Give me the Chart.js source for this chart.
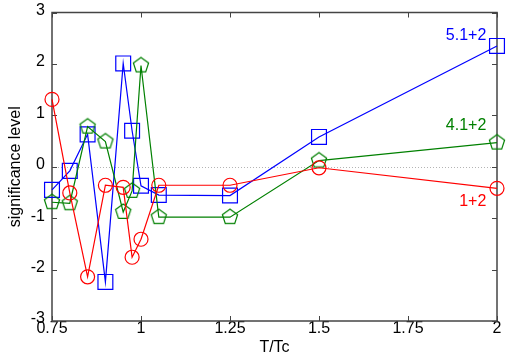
<!DOCTYPE html>
<html>
<head>
<meta charset="utf-8">
<script src="https://cdn.jsdelivr.net/npm/chart.js@4"></script>
<style>
  html, body { margin: 0; padding: 0; background: #fff; }
</style>
</head>
<body>
<canvas id="mychart" width="514" height="364"></canvas>
<script>
// T/Tc values shared by all three series
var temps = [0.75, 0.8, 0.85, 0.9, 0.95, 0.975, 1.0, 1.05, 1.25, 1.5, 2.0];

// significance level per series
var sig12  = [1.31, -0.51, -2.14, -0.36, -0.40, -1.76, -1.41, -0.36, -0.36, -0.02, -0.42];
var sig412 = [-0.69, -0.71, 0.78, 0.49, -0.88, -0.47, 1.97, -0.98, -0.98, 0.12, 0.47];
var sig512 = [-0.45, -0.08, 0.63, -2.24, 2.01, 0.70, -0.37, -0.55, -0.56, 0.58, 2.35];

var xTicks = [0.75, 1, 1.25, 1.5, 1.75, 2];
var yTicks = [-3, -2, -1, 0, 1, 2, 3];

// in-plot series labels (data coordinates, right aligned)
var seriesNames = ['1+2', '4.1+2', '5.1+2'];
var nameX = [1.97, 1.97, 1.97];
var nameY = [-0.68, 0.81, 2.55];

var colors = ['#ff0000', '#008000', '#0000ff'];
var FONT = "'Liberation Sans', Arial, sans-serif";

function toPoints(ys) {
  return temps.map(function(t, i) { return {x: t, y: ys[i]}; });
}

function pentagon(color, r) {
  var c = document.createElement('canvas');
  c.width = c.height = 2 * r + 4;
  var g = c.getContext('2d');
  g.strokeStyle = color;
  g.lineWidth = 1.2;
  g.beginPath();
  for (var k = 0; k < 5; k++) {
    var ang = -Math.PI / 2 + k * 2 * Math.PI / 5;
    var px = c.width / 2 + r * Math.cos(ang);
    var py = c.height / 2 + r * Math.sin(ang);
    if (k) g.lineTo(px, py); else g.moveTo(px, py);
  }
  g.closePath();
  g.stroke();
  return c;
}

var frame = {
  id: 'frame',
  beforeDatasetsDraw: function(chart) {
    var ctx = chart.ctx, a = chart.chartArea;
    var xs = chart.scales.x, ys = chart.scales.y;
    ctx.save();
    // dotted zero line
    var y0 = Math.round(ys.getPixelForValue(0)) + 0.5;
    ctx.strokeStyle = '#b4b4b4';
    ctx.lineWidth = 1;
    ctx.setLineDash([1, 2]);
    ctx.beginPath();
    ctx.moveTo(a.left, y0);
    ctx.lineTo(a.right, y0);
    ctx.stroke();
    ctx.setLineDash([]);
    // box
    ctx.strokeStyle = '#444';
    ctx.lineWidth = 1.5;
    ctx.strokeRect(a.left, a.top, a.right - a.left, a.bottom - a.top);
    // inward ticks on all sides
    ctx.lineWidth = 1;
    ctx.beginPath();
    xTicks.forEach(function(v) {
      var px = Math.round(xs.getPixelForValue(v)) + 0.5;
      ctx.moveTo(px, a.bottom); ctx.lineTo(px, a.bottom - 5);
      ctx.moveTo(px, a.top); ctx.lineTo(px, a.top + 5);
    });
    yTicks.forEach(function(v) {
      var py = Math.round(ys.getPixelForValue(v)) + 0.5;
      ctx.moveTo(a.left, py); ctx.lineTo(a.left + 5, py);
      ctx.moveTo(a.right, py); ctx.lineTo(a.right - 5, py);
    });
    ctx.stroke();
    ctx.restore();
  }
};

var names = {
  id: 'names',
  afterDatasetsDraw: function(chart) {
    var ctx = chart.ctx, xs = chart.scales.x, ys = chart.scales.y;
    ctx.save();
    ctx.font = '16px ' + FONT;
    ctx.textAlign = 'right';
    ctx.textBaseline = 'middle';
    seriesNames.forEach(function(n, i) {
      ctx.fillStyle = colors[i];
      ctx.fillText(n, xs.getPixelForValue(nameX[i]), ys.getPixelForValue(nameY[i]));
    });
    ctx.restore();
  }
};

var ctx = document.getElementById('mychart');

var chartdata = {
  datasets: [
    {
      label: '1+2',
      data: toPoints(sig12),
      borderColor: colors[0],
      borderWidth: 1.2,
      pointStyle: 'circle',
      pointRadius: 7,
      pointBorderWidth: 1.2,
      pointBorderColor: colors[0],
      pointBackgroundColor: 'rgba(0,0,0,0)',
      clip: false
    },
    {
      label: '4.1+2',
      data: toPoints(sig412),
      borderColor: colors[1],
      borderWidth: 1.2,
      pointStyle: pentagon(colors[1], 8),
      pointRadius: 8,
      clip: false
    },
    {
      label: '5.1+2',
      data: toPoints(sig512),
      borderColor: colors[2],
      borderWidth: 1.2,
      pointStyle: 'rect',
      pointRadius: 10.5,
      pointBorderWidth: 1.2,
      pointBorderColor: colors[2],
      pointBackgroundColor: 'rgba(0,0,0,0)',
      clip: false
    }
  ]
};

var chart = new Chart(ctx, {
  type: 'scatter',
  data: chartdata,
  options: {
    responsive: false,
    animation: false,
    devicePixelRatio: 1,
    showLine: true,
    layout: { padding: { top: 12.5, right: 17, left: 0, bottom: 0 } },
    plugins: { legend: { display: false }, tooltip: { enabled: false } },
    scales: {
      x: {
        type: 'linear',
        min: 0.75,
        max: 2,
        afterBuildTicks: function(s) { s.ticks = xTicks.map(function(v) { return {value: v}; }); },
        afterFit: function(s) { s.height = 43; },
        grid: { display: false, drawTicks: false },
        border: { display: false },
        ticks: {
          color: '#000', font: { family: FONT, size: 16, lineHeight: 1 }, padding: 0,
          maxRotation: 0, autoSkip: false,
          callback: function(v) { return String(v); }
        },
        title: { display: true, text: 'T/Tc', color: '#000', font: { family: FONT, size: 16 }, padding: { top: 0, bottom: 7 } }
      },
      y: {
        min: -3,
        max: 3,
        afterBuildTicks: function(s) { s.ticks = yTicks.map(function(v) { return {value: v}; }); },
        afterFit: function(s) { s.width = 52; },
        grid: { display: false, drawTicks: false },
        border: { display: false },
        ticks: {
          color: '#000', font: { family: FONT, size: 16, lineHeight: 0.5 }, padding: 7, labelOffset: -2,
          callback: function(v) { return String(v); }
        },
        title: { display: true, text: 'significance level', color: '#000', font: { family: FONT, size: 16 }, padding: { top: 6, bottom: 0 } }
      }
    }
  },
  plugins: [frame, names]
});
</script>
</body>
</html>
